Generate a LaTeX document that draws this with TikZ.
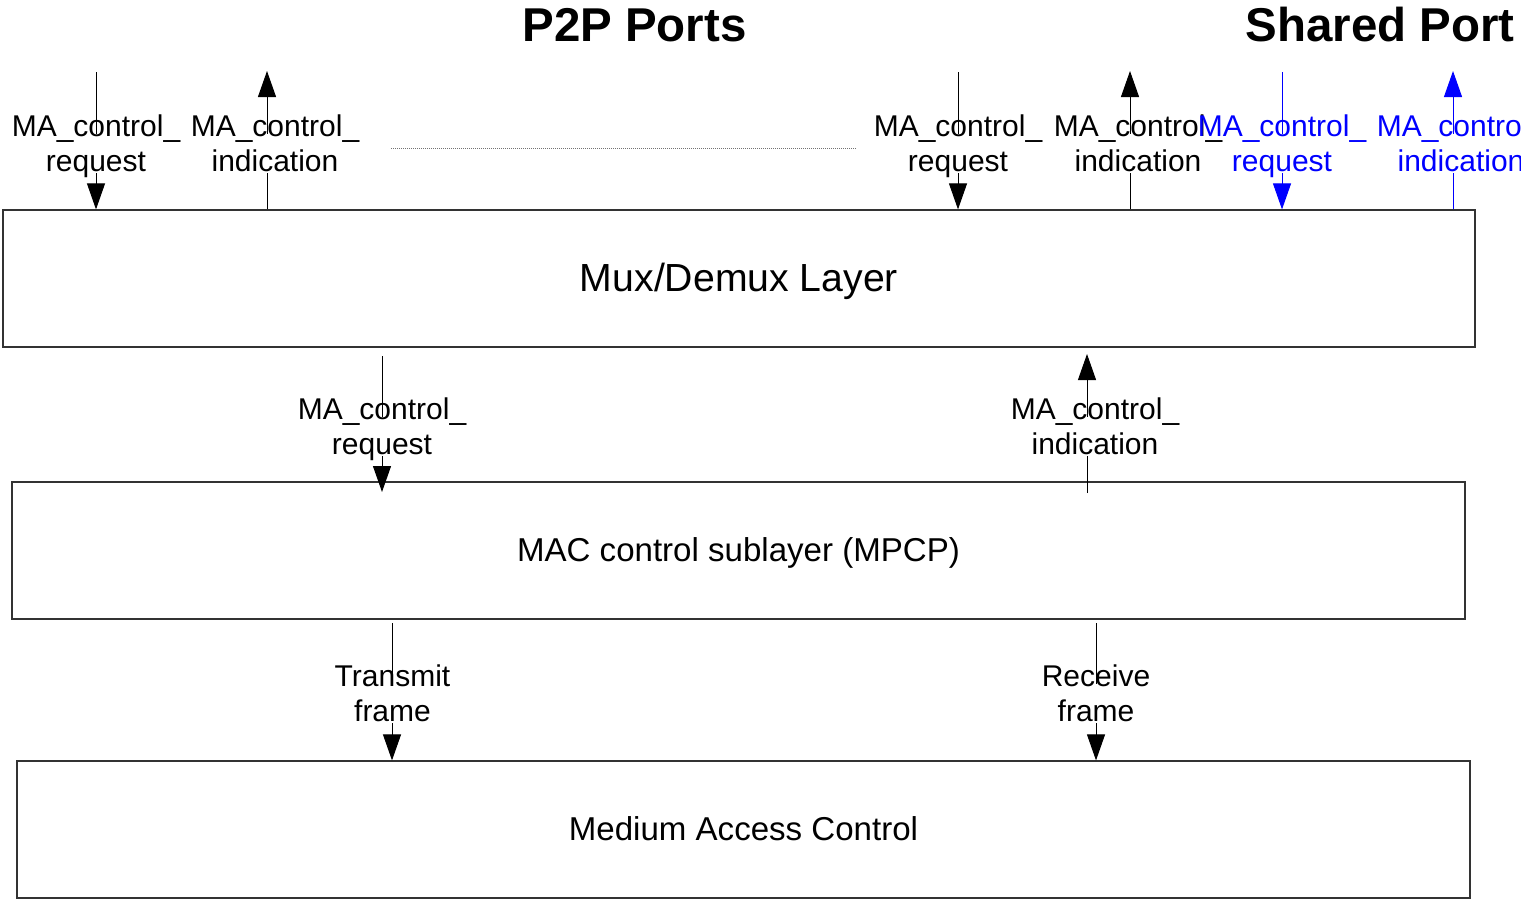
\documentclass[tikz,border=0pt]{standalone}
\usepackage{fontspec}
\setmainfont{Liberation Sans}
\usetikzlibrary{arrows.meta}
\pgfdeclarelayer{lines}
\pgfdeclarelayer{mask}
\pgfsetlayers{lines,mask,main}
\newcommand\twolines[2]{#1\\#2\vphantom{q}}
\begin{document}
\begin{tikzpicture}[x=0.75pt,y=-0.75pt,
  layerbox/.style={draw=black!80, line width=0.9pt, minimum width=1089.75pt, minimum height=102.75pt, inner sep=0pt},
  conn/.style={draw=black, line width=0.75pt},
  tipend/.style={-{Triangle[length=19.5pt,width=13.5pt]}},
  lbl/.style={font=\fontsize{22.5pt}{26.25pt}\selectfont, align=center, inner xsep=0pt, inner ysep=0pt},
  maskfill/.style={fill=white},
  boxtext/.style={font=\fontsize{24.8pt}{30pt}\selectfont, anchor=base, inner sep=0pt},
  title/.style={font=\fontsize{35.6pt}{40pt}\selectfont\bfseries, anchor=base, inner sep=0pt},
  sep/.style={draw=black!55, line width=0.75pt, dash pattern=on 0.75pt off 0.75pt}
]
\useasboundingbox (0,0) rectangle (1530,903);
\begin{scope}
\clip (0,0) rectangle (1520,903);
% layers
\begin{pgfonlayer}{lines}
\node[layerbox, minimum width=1104pt] (mux) at (739,278.5) {};
\node[layerbox] (mpcp) at (738.5,550.5) {};
\node[layerbox] (mac) at (743.5,829.5) {};
\end{pgfonlayer}
\node[boxtext, font=\fontsize{29.4pt}{34pt}\selectfont] (muxt) at (739,291) {Mux/Demux Layer};
\node[boxtext] (mpcpt) at (738.5,561) {MAC control sublayer (MPCP)};
\node[boxtext] (mact) at (743.5,840) {Medium Access Control};
% titles
\node[title] (p2p) at (634.5,41) {P2P Ports};
\node[title] (shared) at (1380,41) {Shared Port};
% labels
\node[lbl] (lrqA) at (96,146.7) {\twolines{MA\_control\_}{request}};
\node[lbl] (linA) at (275,146.7) {\twolines{MA\_control\_}{indication}};
\node[lbl] (lrqB) at (958,146.7) {\twolines{MA\_control\_}{request}};
\node[lbl] (linB) at (1138,146.7) {\twolines{MA\_control\_}{indication}};
\node[lbl,text=blue] (lrqC) at (1282,146.7) {\twolines{MA\_control\_}{request}};
\node[lbl,text=blue] (linC) at (1461,146.7) {\twolines{MA\_control\_}{indication}};
\node[lbl] (lrqM) at (382,429.7) {\twolines{MA\_control\_}{request}};
\node[lbl] (linM) at (1095,429.7) {\twolines{MA\_control\_}{indication}};
\node[lbl] (ltx) at (392.5,696.7) {\twolines{Transmit}{frame}};
\node[lbl] (lrx) at (1096,696.7) {\twolines{Receive}{frame}};
% free ends
\coordinate (rqA) at (96,72);
\coordinate (inA) at (267,71);
\coordinate (rqB) at (958,72);
\coordinate (inB) at (1130,71);
\coordinate (rqC) at (1282,72);
\coordinate (inC) at (1453,71);
\coordinate (rqM0) at (382,356);
\coordinate (rqM1) at (382,492);
\coordinate (inM0) at (1087,493);
\coordinate (inM1) at (1087,354);
\coordinate (tx0) at (392,623);
\coordinate (rx0) at (1096,623);
\coordinate (sepL) at (391,148);
\coordinate (sepR) at (856,148);
% connectors
\begin{pgfonlayer}{lines}
\draw[conn,tipend] (rqA) -- (rqA |- mux.north);
\draw[conn,tipend] (inA |- mux.north) -- (inA);
\draw[conn,tipend] (rqB) -- (rqB |- mux.north);
\draw[conn,tipend] (inB |- mux.north) -- (inB);
\draw[conn,tipend,draw=blue,fill=blue] (rqC) -- (rqC |- mux.north);
\draw[conn,tipend,draw=blue,fill=blue] (inC |- mux.north) -- (inC);
\draw[conn,tipend] (rqM0) -- (rqM1);
\draw[conn,tipend] (inM0) -- (inM1);
\draw[conn,tipend] (tx0) -- (tx0 |- mac.north);
\draw[conn,tipend] (rx0) -- (rx0 |- mac.north);
\draw[sep] (sepL) -- (sepR);
\end{pgfonlayer}
% masks: the text blocks hide their connectors between the two baselines
\begin{pgfonlayer}{mask}
\foreach \n in {lrqA,linA,lrqB,linB,lrqC,linC,lrqM,linM,ltx,lrx}
  \fill[maskfill] ([yshift=-14.25pt]\n.north west) rectangle ([yshift=3.75pt]\n.south east);
\end{pgfonlayer}
\end{scope}
\end{tikzpicture}
\end{document}
